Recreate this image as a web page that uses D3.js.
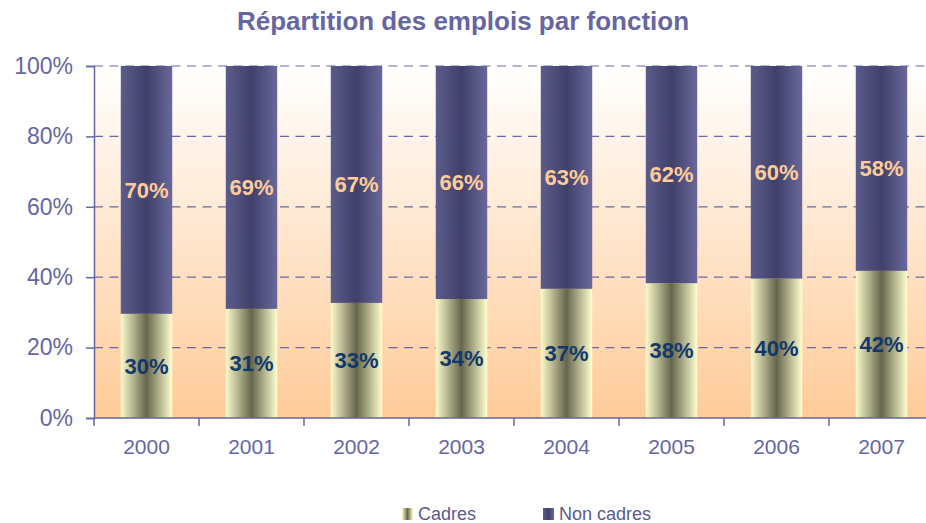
<!DOCTYPE html>
<html>
<head>
<meta charset="utf-8">
<script src="https://cdn.jsdelivr.net/npm/d3@7"></script>
<style>
  body { margin: 0; background: #ffffff; overflow: hidden; }
  svg { display: block; font-family: "Liberation Sans", Arial, sans-serif; }
</style>
</head>
<body>
<div id="chart"></div>
<script>
// data
const years = ['2000', '2001', '2002', '2003', '2004', '2005', '2006', '2007'];
const cadres = [29.6, 31.0, 32.7, 33.8, 36.7, 38.3, 39.6, 41.8];
const nonCadres = [70.4, 69.0, 67.3, 66.2, 63.3, 61.7, 60.4, 58.2];
const yTicks = [0, 20, 40, 60, 80, 100];
const seriesNames = ['Cadres', 'Non cadres'];

const width = 926, height = 523;
const plotLeft = 94, plotRight = 934, plotTop = 66, plotBottom = 418;
const axisColor = '#6666a0';

const svg = d3.select('#chart').append('svg')
    .attr('width', width)
    .attr('height', height);

const defs = svg.append('defs');

// plot background, white to peach
const bg = defs.append('linearGradient').attr('id', 'bg')
    .attr('x1', 0).attr('y1', 0).attr('x2', 0).attr('y2', 1);
bg.append('stop').attr('offset', '0%').attr('stop-color', '#ffffff');
bg.append('stop').attr('offset', '100%').attr('stop-color', '#ffcb98');

// horizontal "cylinder" shading of the bars
function barGradient(id, edgeL, mid, edgeR) {
    const g = defs.append('linearGradient').attr('id', id)
        .attr('x1', 0).attr('y1', 0).attr('x2', 1).attr('y2', 0);
    g.append('stop').attr('offset', '0%').attr('stop-color', edgeL);
    g.append('stop').attr('offset', '50%').attr('stop-color', mid);
    g.append('stop').attr('offset', '100%').attr('stop-color', edgeR);
}
barGradient('gCadres', '#fbfbcb', '#66664c', '#ffffd0');
barGradient('gNon', '#5c5c8c', '#40406a', '#68689c');

const x0 = d3.scaleBand().domain(years).range([plotLeft, plotRight]).padding(0);
const x = d3.scaleBand().domain(years).range([plotLeft, plotRight])
    .paddingInner(0.51).paddingOuter(0.255);
const y = d3.scaleLinear().domain([0, 100]).range([plotBottom, plotTop]);

svg.append('rect')
    .attr('x', plotLeft).attr('y', plotTop)
    .attr('width', plotRight - plotLeft).attr('height', plotBottom - plotTop)
    .attr('fill', 'url(#bg)');

// dashed grid lines
svg.append('g').selectAll('line')
    .data(yTicks.filter(d => d > 0))
    .join('line')
    .attr('x1', plotLeft).attr('x2', plotRight)
    .attr('y1', d => y(d)).attr('y2', d => y(d))
    .attr('stroke', '#6868a8')
    .attr('stroke-width', 1.2)
    .attr('stroke-dasharray', '9,6.5');

// stacked bars
const stacked = years.map((yr, i) => ({ year: yr, c: cadres[i], n: nonCadres[i] }));

svg.append('g').selectAll('rect')
    .data(stacked)
    .join('rect')
    .attr('x', d => x(d.year))
    .attr('width', x.bandwidth())
    .attr('y', d => y(d.c))
    .attr('height', d => y(0) - y(d.c))
    .attr('fill', 'url(#gCadres)');

svg.append('g').selectAll('rect')
    .data(stacked)
    .join('rect')
    .attr('x', d => x(d.year))
    .attr('width', x.bandwidth())
    .attr('y', d => y(d.c + d.n))
    .attr('height', d => y(d.c) - y(d.c + d.n))
    .attr('fill', 'url(#gNon)');

// value labels
svg.append('g').selectAll('text')
    .data(stacked)
    .join('text')
    .attr('x', d => x(d.year) + x.bandwidth() / 2)
    .attr('y', d => y(d.c / 2))
    .attr('dy', '0.35em')
    .attr('text-anchor', 'middle')
    .attr('font-size', 22)
    .attr('font-weight', 'bold')
    .attr('fill', '#12386b')
    .text(d => Math.round(d.c) + '%');

svg.append('g').selectAll('text')
    .data(stacked)
    .join('text')
    .attr('x', d => x(d.year) + x.bandwidth() / 2)
    .attr('y', d => y(d.c + d.n / 2))
    .attr('dy', '0.35em')
    .attr('text-anchor', 'middle')
    .attr('font-size', 22)
    .attr('font-weight', 'bold')
    .attr('fill', '#ffcc99')
    .text(d => Math.round(d.n) + '%');

// y axis
const yAxis = svg.append('g')
    .attr('transform', `translate(${plotLeft},0)`)
    .call(d3.axisLeft(y).tickValues(yTicks).tickSize(8).tickPadding(13)
        .tickFormat(d => d + '%'));
yAxis.select('.domain').attr('stroke', axisColor).attr('stroke-width', 1.5);
yAxis.selectAll('.tick line').attr('stroke', axisColor).attr('stroke-width', 1.5);
yAxis.selectAll('.tick text')
    .attr('fill', axisColor)
    .attr('font-size', 23)
    .attr('font-family', '"Liberation Sans", Arial, sans-serif');

// x axis: labels centred, ticks on band boundaries
const xAxis = svg.append('g')
    .attr('transform', `translate(0,${plotBottom})`)
    .call(d3.axisBottom(x0).tickSize(0).tickPadding(21));
xAxis.select('.domain').remove();
xAxis.selectAll('.tick text')
    .attr('fill', axisColor)
    .attr('font-size', 21)
    .attr('font-family', '"Liberation Sans", Arial, sans-serif');

svg.append('line')
    .attr('x1', plotLeft).attr('x2', plotRight)
    .attr('y1', plotBottom).attr('y2', plotBottom)
    .attr('stroke', axisColor).attr('stroke-width', 1.5);

svg.append('g').selectAll('line')
    .data(years)
    .join('line')
    .attr('x1', d => x0(d)).attr('x2', d => x0(d))
    .attr('y1', plotBottom).attr('y2', plotBottom + 8)
    .attr('stroke', axisColor).attr('stroke-width', 1.5);

// title
svg.append('text')
    .attr('x', 463).attr('y', 30)
    .attr('text-anchor', 'middle')
    .attr('font-size', 26)
    .attr('font-weight', 'bold')
    .attr('fill', '#6666a0')
    .text('Répartition des emplois par fonction');

// legend
const legendX = [402, 543];
const legendFill = ['url(#gCadres)', 'url(#gNon)'];
const legend = svg.append('g').selectAll('g')
    .data(seriesNames)
    .join('g')
    .attr('transform', (d, i) => `translate(${legendX[i]},508)`);
legend.append('rect')
    .attr('width', 11).attr('height', 12)
    .attr('fill', (d, i) => legendFill[i]);
legend.append('text')
    .attr('x', 16).attr('y', 12)
    .attr('font-size', 18)
    .attr('fill', '#5a5a90')
    .text(d => d);
</script>
</body>
</html>
